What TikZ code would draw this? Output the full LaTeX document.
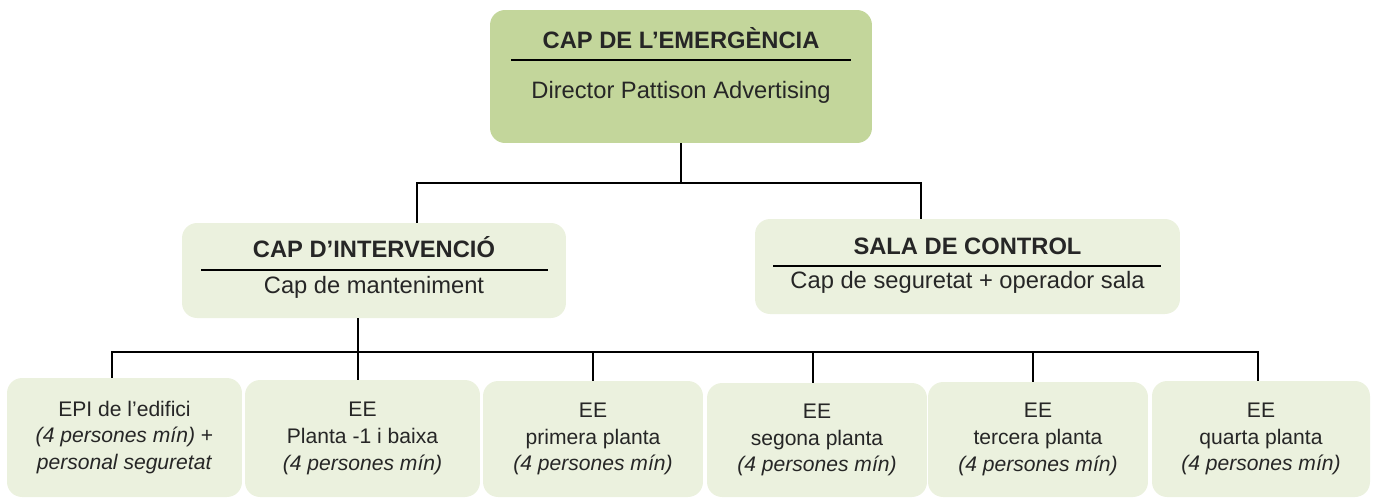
\documentclass[tikz,border=0pt]{standalone}
\usepackage{fontspec}
\setmainfont{Liberation Sans}
\usepackage{tikz}
\definecolor{oliva}{HTML}{C3D69B}
\definecolor{olivaclar}{HTML}{EBF1DE}
\definecolor{gristext}{HTML}{262626}

\begin{document}
\begin{tikzpicture}[x=0.02cm, y=-0.02cm]
\tikzstyle{caixa} = [rounded corners=0.3cm, inner sep=0pt, fill=olivaclar, text=gristext, align=center, font=\fontsize{12}{15.3}\selectfont]
\tikzstyle{titol} = [anchor=base, inner sep=0pt, text=gristext, font=\fontsize{13.5}{16}\selectfont\bfseries]
\tikzstyle{subtitol} = [anchor=base, inner sep=0pt, text=gristext, font=\fontsize{13.5}{16}\selectfont]
\tikzstyle{linia} = [line width=1pt, black]
\useasboundingbox (0,0) rectangle (1375,498);

% nivell 1
\node[caixa, fill=oliva, minimum width=7.64cm, minimum height=2.66cm] (cap) at (681,76.5) {};
\node[titol] (capt) at (681,48) {CAP DE L’EMERGÈNCIA};
\node[subtitol] (caps) at (681,98) {Director Pattison Advertising};
\draw[linia] (511,60) -- (851,60);

% nivell 2
\node[caixa, minimum width=7.68cm, minimum height=1.9cm] (interv) at (374,270.5) {};
\node[titol] (intervt) at (374,257) {CAP D’INTERVENCIÓ};
\node[subtitol] (intervs) at (374,293) {Cap de manteniment};
\draw[linia] (201,270) -- (548,270);

\node[caixa, minimum width=8.5cm, minimum height=1.9cm] (sala) at (967.5,266.5) {};
\node[titol] (salat) at (967.5,254) {SALA DE CONTROL};
\node[subtitol] (salas) at (967.5,288) {Cap de seguretat + operador sala};
\draw[linia] (773,266) -- (1161,266);

% nivell 3
\node[caixa, minimum width=4.7cm, minimum height=2.38cm] (epi) at (124.5,437.5)
  {EPI de l’edifici\\ \textit{(4 persones mín)} +\\ \textit{personal seguretat}};
\node[caixa, minimum width=4.7cm, minimum height=2.34cm] (pb) at (362.5,438.5)
  {EE\\ Planta -1 i baixa\\ \textit{(4 persones mín)}};
\node[caixa, minimum width=4.4cm, minimum height=2.32cm] (p1) at (593,439)
  {EE\\ primera planta\\ \textit{(4 persones mín)}};
\node[caixa, minimum width=4.4cm, minimum height=2.28cm] (p2) at (817,440)
  {EE\\ segona planta\\ \textit{(4 persones mín)}};
\node[caixa, minimum width=4.4cm, minimum height=2.3cm] (p3) at (1038,439.5)
  {EE\\ tercera planta\\ \textit{(4 persones mín)}};
\node[caixa, minimum width=4.36cm, minimum height=2.32cm] (p4) at (1261,439)
  {EE\\ quarta planta\\ \textit{(4 persones mín)}};

% connectors
\coordinate (h1) at (417,183);
\coordinate (h2) at (921,183);
\draw[linia] (cap.south) -- (cap.south |- h1);
\draw[linia] (h1 |- interv.north) -- (h1) -- (h2) -- (h2 |- sala.north);

\coordinate (d1) at (112,352);
\coordinate (d2) at (358,352);
\coordinate (d3) at (593,352);
\coordinate (d4) at (813,352);
\coordinate (d5) at (1033,352);
\coordinate (d6) at (1258,352);
\draw[linia] (d1 |- epi.north) -- (d1) -- (d6) -- (d6 |- p4.north);
\draw[linia] (d2 |- interv.south) -- (d2 |- pb.north);
\draw[linia] (d3) -- (d3 |- p1.north);
\draw[linia] (d4) -- (d4 |- p2.north);
\draw[linia] (d5) -- (d5 |- p3.north);
\end{tikzpicture}
\end{document}
